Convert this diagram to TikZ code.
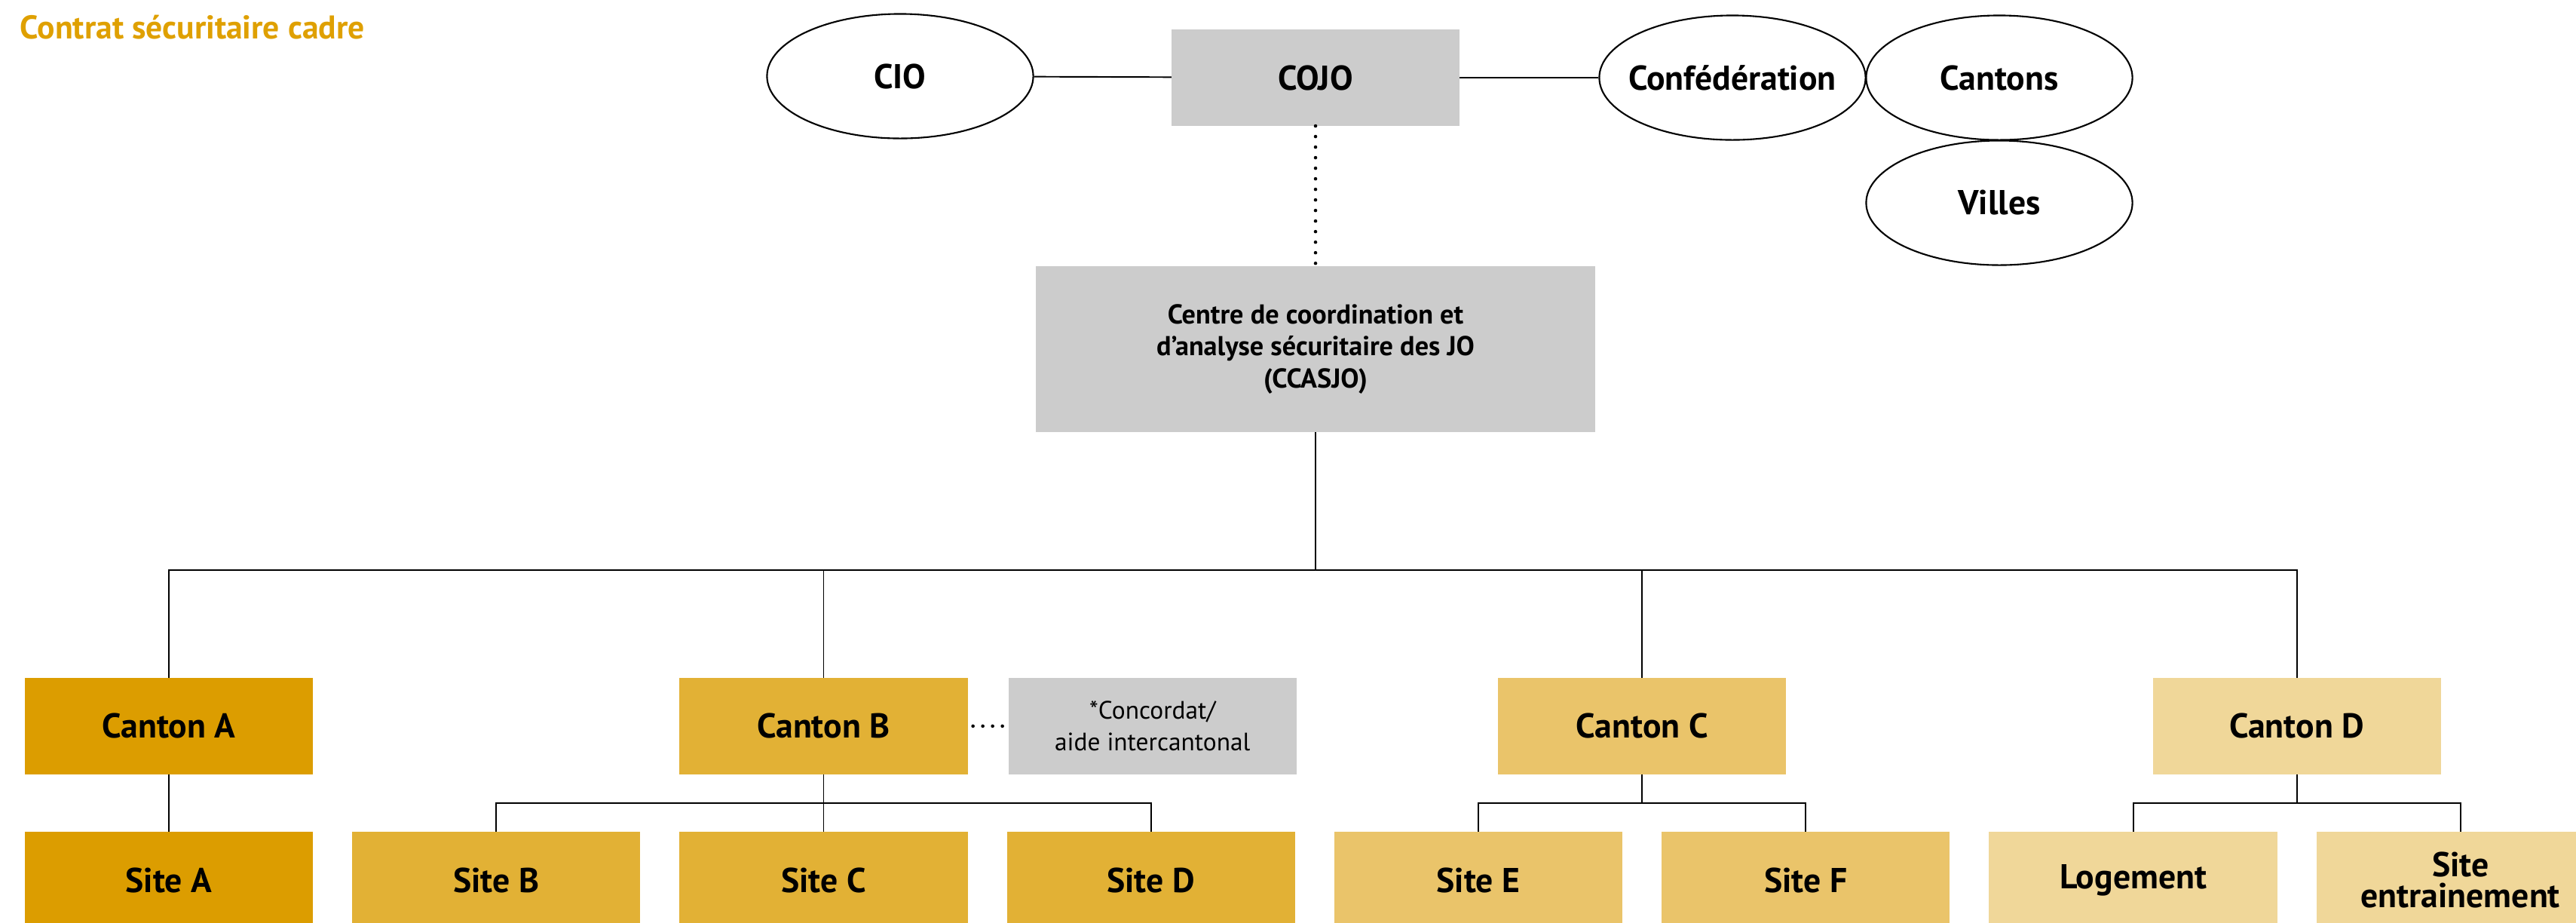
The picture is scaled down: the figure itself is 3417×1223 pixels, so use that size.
\documentclass[tikz,border=0pt]{standalone}
\usepackage{fontspec}
\setmainfont{PT Sans}
\usetikzlibrary{positioning, calc, shapes.geometric}
\definecolor{goldA}{HTML}{DC9D00}
\definecolor{goldB}{HTML}{E2B135}
\definecolor{goldC}{HTML}{EAC46A}
\definecolor{goldD}{HTML}{F0D799}
\definecolor{boxgray}{HTML}{CCCCCC}
\definecolor{titleor}{HTML}{DFA000}

\begin{document}
\begin{tikzpicture}[x=0.01cm, y=-0.01cm, font=\bfseries\fontsize{13}{11.8}\selectfont,
    line width=0.55pt, node distance=0.76cm and 0.52cm,
    box/.style={minimum width=3.82cm, minimum height=1.28cm, inner sep=0pt, outer sep=0pt, align=center},
    gbox/.style={box, fill=boxgray},
    ell/.style={ellipse, draw, line width=0.6pt, minimum width=3.53cm, minimum height=1.65cm, inner ysep=0pt, inner xsep=-0.25cm},
    dotline/.style={line width=1.3pt, line cap=round, dash pattern=on 0pt off 0.14cm}]
  \useasboundingbox (0,0) rectangle (3417,1223);

  % title
  \node[titleor, anchor=base west, inner sep=0pt, font=\bfseries\fontsize{12.4}{14}\selectfont] (title) at (26,51)
    {Contrat sécuritaire cadre};

  % top row
  \node[gbox] (cojo) at (1745,103) {COJO};
  \node[ell] (cio) at (1194,101) {CIO};
  \node[ell] (conf) at (2298,103) {Confédération};
  \node[ell] (cantons) at (2652,103) {Cantons};
  \node[ell] (villes) at (2652,269) {Villes};
  \draw (cio) -- (cojo);
  \draw (cojo) -- (conf);

  % coordination centre
  \node[gbox, minimum width=7.42cm, minimum height=2.2cm, font=\bfseries\fontsize{10.3}{12}\selectfont] (ccasjo) at (1745,463)
    {Centre de coordination et\\d’analyse sécuritaire des JO\\(CCASJO)};
  \draw[dotline] (cojo) -- (ccasjo);

  % sites
  \node[box, fill=goldA] (sa) at (224,1167) {Site A};
  \node[box, fill=goldB, right=of sa] (sb) {Site B};
  \node[box, fill=goldB, right=of sb] (sc) {Site C};
  \node[box, fill=goldB, right=of sc] (sd) {Site D};
  \node[box, fill=goldC, right=of sd] (se) {Site E};
  \node[box, fill=goldC, right=of se] (sf) {Site F};
  \node[box, fill=goldD, right=of sf] (slog) {Logement};
  \node[box, fill=goldD, right=of slog] (sent) {Site\\entrainement};

  % cantons
  \node[box, fill=goldA, above=of sa] (ca) {Canton A};
  \node[box, fill=goldB, above=of sc] (cb) {Canton B};
  \node[box, fill=goldC, above=of $(se.north)!0.5!(sf.north)$] (cc) {Canton C};
  \node[box, fill=goldD, above=of $(slog.north)!0.5!(sent.north)$] (cd) {Canton D};
  \node[gbox, right=0.54cm of cb, font=\fontsize{9.5}{12}\selectfont] (conc) {*Concordat/\\aide intercantonal};
  \draw[dotline, dash pattern=on 0pt off 0.13cm, shorten <=0.07cm, shorten >=0.07cm] (cb) -- (conc);

  % tree
  \draw (ccasjo.south) -- ++(0,183) coordinate (hub);
  \foreach \c in {ca,cb,cc,cd} \draw (hub) -| (\c.north);
  \draw (ca) -- (sa);
  \foreach \s in {sb,sc,sd} \draw (cb.south) -- ++(0,38) -| (\s.north);
  \foreach \s in {se,sf} \draw (cc.south) -- ++(0,38) -| (\s.north);
  \foreach \s in {slog,sent} \draw (cd.south) -- ++(0,38) -| (\s.north);
\end{tikzpicture}
\end{document}
